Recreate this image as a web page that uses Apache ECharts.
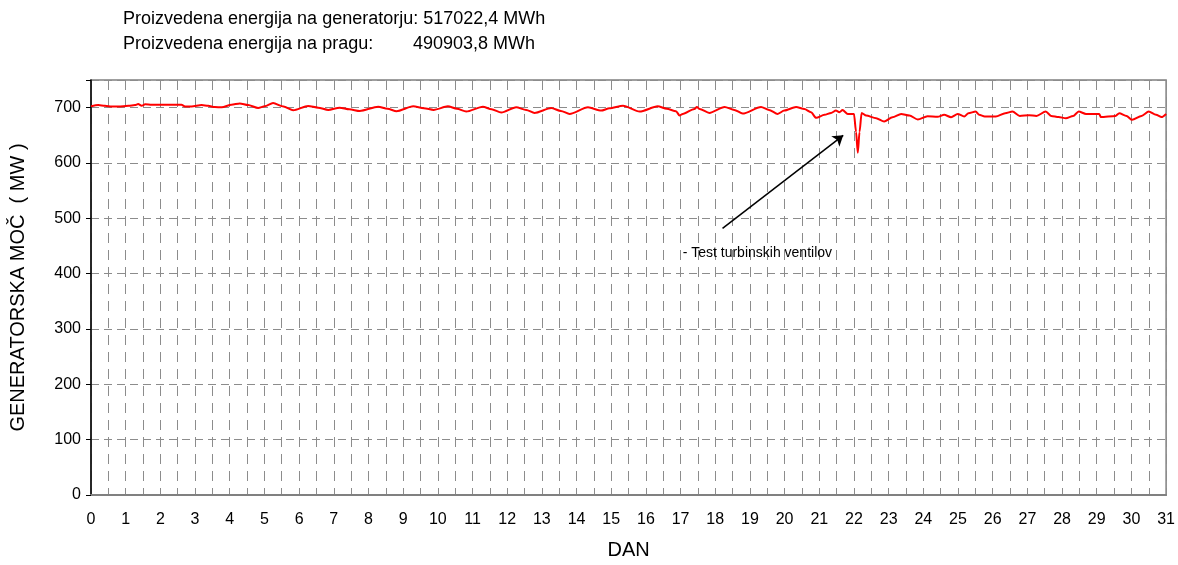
<!DOCTYPE html>
<html>
<head>
<meta charset="utf-8">
<script src="https://cdn.jsdelivr.net/npm/echarts@6/dist/echarts.min.js"></script>
<style>
html,body{margin:0;padding:0;background:#fff;}
#c{width:1178px;height:565px;}
</style>
</head>
<body>
<div id="c"></div>
<script>
// ---- data ----
var days = [
  0, 0.21, 0.40, 0.60, 0.79, 1.08, 1.27, 1.36, 1.46, 1.56, 1.75, 2.2, 2.61, 2.71, 2.90,
  3.19, 3.38, 3.57, 3.77, 4.05, 4.29, 4.53, 4.82, 5.01,
  5.25, 5.55, 5.83, 6.26, 6.55, 6.84, 7.17, 7.45, 7.75, 8.28, 8.55, 8.81, 9.29, 9.6, 9.88,
  10.29, 10.55, 10.82, 11.30, 11.55, 11.83, 12.26, 12.55, 12.79, 13.27, 13.55, 13.80,
  14.33, 14.71, 14.95, 15.34, 15.82, 16.34, 16.6, 16.87, 16.97, 17.06, 17.40, 17.47, 17.55,
  17.83, 18.27, 18.55, 18.79, 19.32, 19.55, 19.80,
  19.99, 20.33, 20.57, 20.76, 20.91, 21.15, 21.34, 21.48, 21.58, 21.67, 21.82, 22.0,
  22.06, 22.11, 22.16, 22.22, 22.35, 22.64, 22.87, 23.11, 23.36, 23.60, 23.84, 24.12,
  24.41, 24.6, 24.8, 24.99, 25.18, 25.3, 25.51, 25.61, 25.77, 26.09, 26.36, 26.57, 26.78,
  27.05, 27.26, 27.53, 27.69, 27.9, 28.11, 28.32, 28.48, 28.69, 29.07, 29.12, 29.54,
  29.65, 29.86, 30.02, 30.29, 30.5, 30.71, 30.87, 31.0
];
var mw = [
  702.4, 704.7, 703.5, 702, 702, 703.5, 704.7, 706.5, 703.5, 706, 705.3, 705.3, 705.3, 702, 702,
  704.7, 703.5, 701, 700.6, 705.3, 707.7, 704.7, 699.4, 702.4,
  708.3, 702, 695.3, 703, 700, 695.8, 700, 697, 694, 701.8, 698, 693.5, 702.4, 699, 696,
  702.4, 698, 692.9, 701.8, 697, 691.1, 700.6, 696, 690.5, 699.4, 694, 688.7,
  700.6, 694.7, 698.8, 703.6, 692.9, 702.4, 698, 693.5, 685.8, 688.7, 697.6, 701.2, 697.6,
  690.5, 701.2, 696, 689.3, 701.2, 696, 688.7,
  694.7, 701.2, 697.6, 691.7, 681.6, 687, 690.5, 694.7, 691.7, 695.8, 688.7, 688.7,
  656, 618.7, 656, 690.5, 685.8, 681, 675.1, 682.8, 688.7, 685.8, 678.6, 684.6,
  683.4, 687, 682.8, 688.7, 684, 690, 693, 687, 684, 684, 690, 693, 685,
  686.4, 685, 693, 685, 683, 681, 685, 693, 688.7, 688.7, 683, 685,
  690, 685, 678, 685, 693, 687, 683, 688.7
];
var titleLine1 = 'Proizvedena energija na generatorju: 517022,4 MWh';
var titleLine2a = 'Proizvedena energija na pragu:';
var titleLine2b = '490903,8 MWh';
var yName = 'GENERATORSKA MOČ  ( MW )';
var xName = 'DAN';
var noteText = '- Test turbinskih ventilov';
var arrowFrom = [18.21, 482];
var arrowTo = [21.69, 650];
var noteAt = [17.06, 437];

var series = days.map(function (d, i) { return [d, mw[i]]; });
var FONT = '"Liberation Sans", Arial, sans-serif';
var chart = echarts.init(document.getElementById('c'), null, {renderer: 'canvas'});
chart.setOption({
  animation: false,
  backgroundColor: '#fff',
  textStyle: {fontFamily: FONT},
  graphic: [
    {type: 'text', left: 123, top: 10, style: {text: titleLine1, font: '18px ' + FONT, fill: '#000'}},
    {type: 'text', left: 123, top: 35, style: {text: titleLine2a, font: '18px ' + FONT, fill: '#000'}},
    {type: 'text', left: 413, top: 35, style: {text: titleLine2b, font: '18px ' + FONT, fill: '#000'}}
  ],
  grid: {left: 91, right: 11, top: 80, bottom: 63, show: true, borderColor: '#808080', borderWidth: 1.5, backgroundColor: 'transparent'},
  xAxis: {
    type: 'value', min: 0, max: 31, interval: 0.5,
    name: xName, nameLocation: 'middle', nameGap: 45,
    nameTextStyle: {fontSize: 20, color: '#000', fontFamily: FONT},
    axisLine: {show: true, onZero: false, lineStyle: {color: '#808080', width: 2}},
    axisTick: {show: false},
    axisLabel: {
      color: '#000', fontSize: 16, margin: 17, fontFamily: FONT,
      formatter: function (v) { return Number.isInteger(v) ? String(v) : ''; }
    },
    splitLine: {show: true, lineStyle: {color: '#8c8c8c', type: [10, 7], width: 1}}
  },
  yAxis: {
    type: 'value', min: 0, max: 750, interval: 100,
    name: yName, nameLocation: 'middle', nameGap: 63, nameRotate: 90,
    nameTextStyle: {fontSize: 20, color: '#000', fontFamily: FONT},
    axisLine: {show: true, lineStyle: {color: '#000', width: 1.5}},
    axisTick: {show: true, length: 5, lineStyle: {color: '#000'}},
    axisLabel: {
      color: '#000', fontSize: 16, margin: 10, fontFamily: FONT,
      formatter: function (v) { return v > 700 ? '' : String(v); }
    },
    splitLine: {show: true, lineStyle: {color: '#8c8c8c', type: [8, 5], width: 1}}
  },
  series: [{
    type: 'line',
    data: series,
    showSymbol: false,
    smooth: 0.25,
    smoothMonotone: 'x',
    lineStyle: {color: '#ff0000', width: 2},
    itemStyle: {color: '#ff0000'},
    markLine: {
      silent: true,
      symbol: ['none', 'arrow'],
      symbolSize: 10,
      label: {show: false},
      lineStyle: {color: '#000', width: 1.5, type: 'solid'},
      data: [[{coord: arrowFrom}, {coord: arrowTo}]]
    },
    markPoint: {
      silent: true,
      symbol: 'circle',
      symbolSize: 0,
      data: [{coord: noteAt, label: {show: true, position: 'right', distance: 0, formatter: noteText, color: '#000', fontSize: 14, fontFamily: FONT}}]
    }
  }]
});
</script>
</body>
</html>
